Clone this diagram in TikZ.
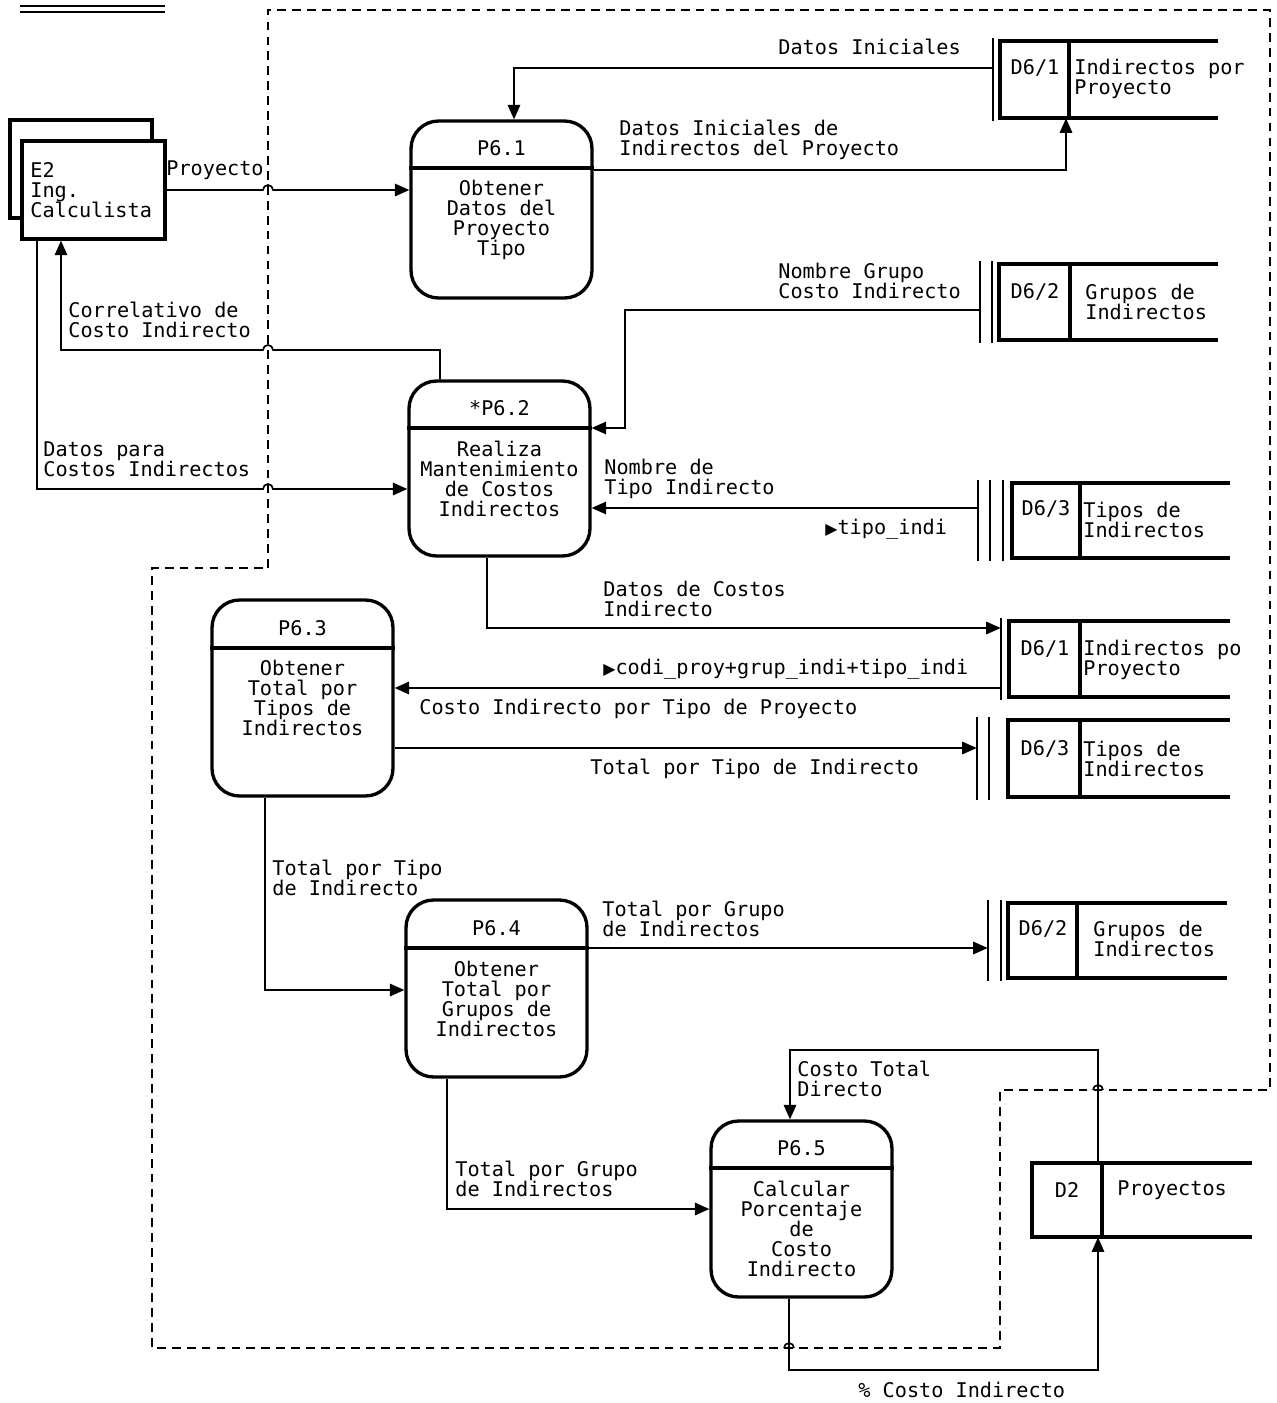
\documentclass[tikz,border=0pt]{standalone}
\usepackage{fontspec}
\setmonofont{DejaVu Sans Mono}
\newfontfamily\symfont{DejaVu Sans}
\usetikzlibrary{arrows.meta,calc}
\tikzset{
  proc/.style={draw, line width=1.9pt, rounded corners=0.55cm, minimum width=3.62cm, inner sep=0pt},
  ent/.style={draw, line width=1.9pt, fill=white, minimum width=2.86cm, minimum height=1.96cm, inner sep=0pt},
  st/.style 2 args={minimum width=#1, minimum height=#2, inner sep=0pt},
  flow/.style={line width=0.95pt, -{Triangle[length=2.9mm,width=2.5mm]}},
  hop/.style={line width=0.95pt},
  bnd/.style={line width=1.2pt, dash pattern=on 5pt off 3.5pt},
  stline/.style={line width=1.9pt},
  stthin/.style={line width=0.7pt},
  txt/.style={font=\ttfamily\fontsize{11.5}{11.4}\selectfont, inner sep=0pt},
  lbl/.style={txt, align=left, anchor=west},
  ctr/.style={txt, align=center},
}
\newcommand\tri{{\symfont\fontsize{9}{9}\selectfont ▶}}
\begin{document}
\begin{tikzpicture}[x=0.02cm, y=-0.02cm]
\useasboundingbox (0,0) rectangle (1277,1403);
% top left double rule
\draw[line width=1.1pt] (20,6) -- (165,6);
\draw[line width=1.1pt] (20,12) -- (165,12);
% boundary
\draw[bnd] (268,568) -- (268,10) -- (1270,10) -- (1270,1090) -- (1000,1090) -- (1000,1348) -- (152,1348) -- (152,568) -- cycle;
% external entity
\draw[line width=1.9pt] (10,120) rectangle (152,218);
\node[ent] (e2) at (93.5,190) {};
\node[lbl] at (30,190) {E2\\Ing.\\Calculista};
% processes
\node[proc, minimum height=3.54cm] (p61) at (501.5,209.5) {};
\draw[line width=1.9pt] (p61.west |- 0,168) -- (p61.east |- 0,168);
\node[ctr] at (501.5,148) {P6.1};
\node[ctr] at (501.5,219.5) {Obtener\\Datos del\\Proyecto\\Tipo};
\node[proc, minimum height=3.5cm] (p62) at (499.5,468.5) {};
\draw[line width=1.9pt] (p62.west |- 0,428) -- (p62.east |- 0,428);
\node[ctr] at (499.5,408) {*P6.2};
\node[ctr] at (499.5,478.5) {Realiza\\Mantenimiento\\de Costos\\Indirectos};
\node[proc, minimum height=3.92cm] (p63) at (302.5,698) {};
\draw[line width=1.9pt] (p63.west |- 0,648) -- (p63.east |- 0,648);
\node[ctr] at (302.5,628) {P6.3};
\node[ctr] at (302.5,698) {Obtener\\Total por\\Tipos de\\Indirectos};
\node[proc, minimum height=3.54cm] (p64) at (496.5,988.5) {};
\draw[line width=1.9pt] (p64.west |- 0,948) -- (p64.east |- 0,948);
\node[ctr] at (496.5,928) {P6.4};
\node[ctr] at (496.5,999) {Obtener\\Total por\\Grupos de\\Indirectos};
\node[proc, minimum height=3.52cm] (p65) at (801.5,1209) {};
\draw[line width=1.9pt] (p65.west |- 0,1168) -- (p65.east |- 0,1168);
\node[ctr] at (801.5,1148) {P6.5};
\node[ctr] at (801.5,1229) {Calcular\\Porcentaje\\de\\Costo\\Indirecto};
% data stores
\node[st={4.5cm}{1.54cm}] (d61a) at (1105.5,79.5) {};
\draw[stline] (1218,41) -- (1000,41) -- (1000,118) -- (1218,118);
\draw[stline] (1069,41) -- (1069,118);
\draw[stthin] (993,38) -- (993,121);
\node[ctr] at (1035,68) {D6/1};
\node[lbl] at (1074,78.5) {Indirectos por\\Proyecto};
\node[st={4.76cm}{1.52cm}] (d62a) at (1099,302) {};
\draw[stline] (1218,264) -- (999,264) -- (999,340) -- (1218,340);
\draw[stline] (1070,264) -- (1070,340);
\draw[stthin] (980,261) -- (980,343);
\draw[stthin] (992,261) -- (992,343);
\node[ctr] at (1035,292) {D6/2};
\node[lbl] at (1085,302) {Grupos de\\Indirectos};
\node[st={5.04cm}{1.5cm}] (d63a) at (1104,520.5) {};
\draw[stline] (1230,483) -- (1012,483) -- (1012,558) -- (1230,558);
\draw[stline] (1080,483) -- (1080,558);
\draw[stthin] (978,480) -- (978,561);
\draw[stthin] (990,480) -- (990,561);
\draw[stthin] (1003,480) -- (1003,561);
\node[ctr] at (1046,509) {D6/3};
\node[lbl] at (1083,519.5) {Tipos de\\Indirectos};
\node[st={4.58cm}{1.52cm}] (d61b) at (1115.5,659) {};
\draw[stline] (1230,621) -- (1009,621) -- (1009,697) -- (1230,697);
\draw[stline] (1080,621) -- (1080,697);
\draw[stthin] (1001,618) -- (1001,700);
\node[ctr] at (1045,649) {D6/1};
\node[lbl] at (1083,659.5) {Indirectos po\\Proyecto};
\node[st={5.06cm}{1.54cm}] (d63b) at (1103.5,758.5) {};
\draw[stline] (1230,720) -- (1008,720) -- (1008,797) -- (1230,797);
\draw[stline] (1080,720) -- (1080,797);
\draw[stthin] (977,717) -- (977,800);
\draw[stthin] (989,717) -- (989,800);
\node[ctr] at (1045,749) {D6/3};
\node[lbl] at (1083,759) {Tipos de\\Indirectos};
\node[st={4.78cm}{1.5cm}] (d62b) at (1107.5,940.5) {};
\draw[stline] (1227,903) -- (1008,903) -- (1008,978) -- (1227,978);
\draw[stline] (1077,903) -- (1077,978);
\draw[stthin] (988,900) -- (988,981);
\draw[stthin] (1001,900) -- (1001,981);
\node[ctr] at (1043,929) {D6/2};
\node[lbl] at (1093,939) {Grupos de\\Indirectos};
\node[st={4.4cm}{1.48cm}] (d2) at (1142,1200) {};
\draw[stline] (1252,1163) -- (1032,1163) -- (1032,1237) -- (1252,1237);
\draw[stline] (1102,1163) -- (1102,1237);
\node[ctr] at (1067,1190) {D2};
\node[lbl] at (1117,1190) {Proyectos};
% flows
\draw[flow] (d61a.west |- 0,68) -| (514,0 |- p61.north);
\node[lbl] at (778,47) {Datos Iniciales};
\draw[flow] (p61.east |- 0,170) -| (1066,0 |- d61a.south);
\node[lbl] at (619,140) {Datos Iniciales de\\Indirectos del Proyecto};
\draw[flow] (e2.east) -- (263,190) arc[start angle=180, end angle=0, radius=0.1cm] -- (p61.west |- e2.east);
\node[lbl] at (166,170) {Proyecto};
\draw[flow] (440,0 |- p62.north) -- (440,350) -- (273,350) arc[start angle=0, end angle=180, radius=0.1cm] -- (61,350) -- (61,0 |- e2.south);
\node[lbl] at (68,320) {Correlativo de\\Costo Indirecto};
\draw[flow] (37,0 |- e2.south) -- (37,489) -- (263,489) arc[start angle=180, end angle=0, radius=0.1cm] -- (p62.west |- 0,489);
\node[lbl] at (43,459) {Datos para\\Costos Indirectos};
\draw[flow] (d62a.west |- 0,310) -| (625,428) -- (p62.east |- 0,428);
\node[lbl] at (778,281) {Nombre Grupo\\Costo Indirecto};
\draw[flow] (d63a.west |- 0,508) -- (p62.east |- 0,508);
\node[lbl] at (604,479) {Nombre de\\Tipo Indirecto};
\node[lbl] at (825,529) {\tri tipo\_indi};
\draw[flow] (487,0 |- p62.south) |- (d61b.west |- 0,628);
\node[lbl] at (603,598.5) {Datos de Costos\\Indirecto};
\node[lbl] at (603,669) {\tri codi\_proy+grup\_indi+tipo\_indi};
\draw[flow] (d61b.west |- 0,688) -- (p63.east |- 0,688);
\node[lbl] at (419,709) {Costo Indirecto por Tipo de Proyecto};
\draw[flow] (p63.east |- 0,748) -- (d63b.west |- 0,748);
\node[lbl] at (590,769) {Total por Tipo de Indirecto};
\draw[flow] (265,0 |- p63.south) |- (p64.west |- 0,990);
\node[lbl] at (272,878) {Total por Tipo\\de Indirecto};
\draw[flow] (p64.east |- 0,948) -- (d62b.west |- 0,948);
\node[lbl] at (602,919) {Total por Grupo\\de Indirectos};
\draw[flow] (447,0 |- p64.south) |- (p65.west |- 0,1209);
\node[lbl] at (455,1179) {Total por Grupo\\de Indirectos};
\draw[flow] (1098,0 |- d2.north) -- (1098,1050) -| (790,0 |- p65.north);
\draw[hop] (1093,1090) arc[start angle=180, end angle=0, radius=0.1cm];
\node[lbl] at (797,1079) {Costo Total\\Directo};
\draw[flow] (789,0 |- p65.south) -- (789,1370) -| (1098,0 |- d2.south);
\draw[hop] (784,1348) arc[start angle=180, end angle=0, radius=0.1cm];
\node[lbl] at (858,1390) {\% Costo Indirecto};
\end{tikzpicture}
\end{document}
